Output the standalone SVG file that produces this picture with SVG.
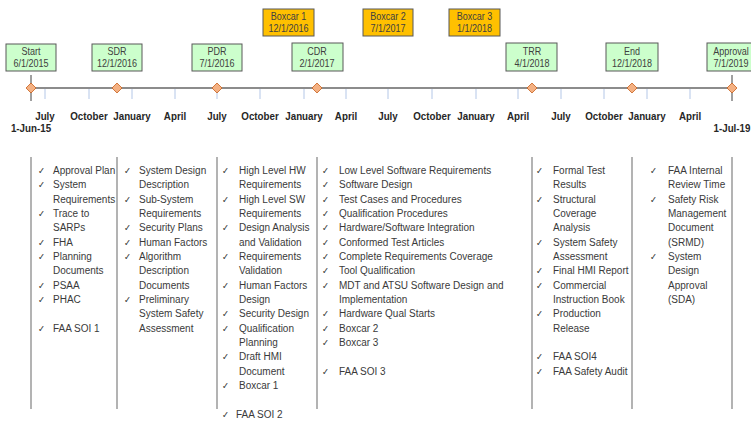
<svg xmlns="http://www.w3.org/2000/svg" width="751" height="421" viewBox="0 0 751 421">
<style>
.bg{fill:#ffffff}
.ms{fill:#CCFFCC;stroke:#595959;stroke-width:1}
.bx{fill:#FFC000;stroke:#595959;stroke-width:1}
.bl{font-family:"Liberation Sans",Arial,sans-serif;font-size:11px;fill:#404040;text-anchor:middle}
.mo{font-family:"Liberation Sans",Arial,sans-serif;font-size:11.5px;font-weight:bold;fill:#262626;text-anchor:middle}
.tx{font-family:"Liberation Sans",Arial,sans-serif;font-size:11.5px;fill:#3a3a3a}
.ck{font-family:"DejaVu Sans",sans-serif;font-size:9.5px;fill:#3a3a3a}
.tick{stroke:#B4C7E7;stroke-width:1}
.sep{stroke:#9a9a9a;stroke-width:1.5}
.dia{fill:#F4B183;stroke:#C55A11;stroke-width:0.75}
</style>
<rect class="bg" x="0" y="0" width="751" height="421"/>

<g id="connectors">
  <line x1="28" y1="88" x2="735" y2="88" stroke="#666666" stroke-width="1.5"/>
  <g>
    <line class="tick" x1="45" y1="89" x2="45" y2="99"/>
    <line class="tick" x1="89" y1="89" x2="89" y2="99"/>
    <line class="tick" x1="132" y1="89" x2="132" y2="99"/>
    <line class="tick" x1="175" y1="89" x2="175" y2="99"/>
    <line class="tick" x1="217" y1="89" x2="217" y2="99"/>
    <line class="tick" x1="260" y1="89" x2="260" y2="99"/>
    <line class="tick" x1="304" y1="89" x2="304" y2="99"/>
    <line class="tick" x1="346" y1="89" x2="346" y2="99"/>
    <line class="tick" x1="388" y1="89" x2="388" y2="99"/>
    <line class="tick" x1="432" y1="89" x2="432" y2="99"/>
    <line class="tick" x1="476" y1="89" x2="476" y2="99"/>
    <line class="tick" x1="518" y1="89" x2="518" y2="99"/>
    <line class="tick" x1="561" y1="89" x2="561" y2="99"/>
    <line class="tick" x1="604" y1="89" x2="604" y2="99"/>
    <line class="tick" x1="647" y1="89" x2="647" y2="99"/>
    <line class="tick" x1="690" y1="89" x2="690" y2="99"/>
  </g>
  <line x1="31" y1="75" x2="31" y2="101" stroke="#404040" stroke-width="1"/>
  <line x1="732" y1="75" x2="732" y2="101" stroke="#404040" stroke-width="1"/>
  <g>
    <line class="sep" x1="31" y1="157" x2="31" y2="409"/>
    <line class="sep" x1="117" y1="157" x2="117" y2="409"/>
    <line class="sep" x1="217" y1="157" x2="217" y2="409"/>
    <line class="sep" x1="317" y1="157" x2="317" y2="409"/>
    <line class="sep" x1="532" y1="157" x2="532" y2="409"/>
    <line class="sep" x1="632" y1="157" x2="632" y2="409"/>
    <line class="sep" x1="732" y1="157" x2="732" y2="409"/>
  </g>
</g>

<g id="axis-labels">
  <text class="mo" x="45" y="120" transform="matrix(0.85 0 0 1 6.75 0)">July</text>
  <text class="mo" x="89" y="120" transform="matrix(0.85 0 0 1 13.35 0)">October</text>
  <text class="mo" x="132" y="120" transform="matrix(0.85 0 0 1 19.8 0)">January</text>
  <text class="mo" x="175" y="120" transform="matrix(0.85 0 0 1 26.25 0)">April</text>
  <text class="mo" x="217" y="120" transform="matrix(0.85 0 0 1 32.55 0)">July</text>
  <text class="mo" x="260" y="120" transform="matrix(0.85 0 0 1 39 0)">October</text>
  <text class="mo" x="304" y="120" transform="matrix(0.85 0 0 1 45.6 0)">January</text>
  <text class="mo" x="346" y="120" transform="matrix(0.85 0 0 1 51.9 0)">April</text>
  <text class="mo" x="388" y="120" transform="matrix(0.85 0 0 1 58.2 0)">July</text>
  <text class="mo" x="432" y="120" transform="matrix(0.85 0 0 1 64.8 0)">October</text>
  <text class="mo" x="476" y="120" transform="matrix(0.85 0 0 1 71.4 0)">January</text>
  <text class="mo" x="518" y="120" transform="matrix(0.85 0 0 1 77.7 0)">April</text>
  <text class="mo" x="561" y="120" transform="matrix(0.85 0 0 1 84.15 0)">July</text>
  <text class="mo" x="604" y="120" transform="matrix(0.85 0 0 1 90.6 0)">October</text>
  <text class="mo" x="647" y="120" transform="matrix(0.85 0 0 1 97.05 0)">January</text>
  <text class="mo" x="690" y="120" transform="matrix(0.85 0 0 1 103.5 0)">April</text>
  <text class="mo" x="31" y="132" transform="matrix(0.85 0 0 1 4.65 0)">1-Jun-15</text>
  <text class="mo" x="732" y="132" transform="matrix(0.85 0 0 1 109.8 0)">1-Jul-19</text>
</g>

<g id="start">
  <rect class="ms" x="6" y="44" width="50" height="27"/>
  <g transform="matrix(0.82 0 0 1 5.58 0)">
    <text class="bl" x="31" y="55">Start</text>
    <text class="bl" x="31" y="67">6/1/2015</text>
  </g>
  <path class="dia" d="M31,83 l5,5 l-5,5 l-5,-5z"/>
</g>
<g id="sdr">
  <rect class="ms" x="92" y="44" width="50" height="27"/>
  <g transform="matrix(0.82 0 0 1 21.06 0)">
    <text class="bl" x="117" y="55">SDR</text>
    <text class="bl" x="117" y="67">12/1/2016</text>
  </g>
  <path class="dia" d="M117,83 l5,5 l-5,5 l-5,-5z"/>
</g>
<g id="pdr">
  <rect class="ms" x="192" y="44" width="50" height="27"/>
  <g transform="matrix(0.82 0 0 1 39.06 0)">
    <text class="bl" x="217" y="55">PDR</text>
    <text class="bl" x="217" y="67">7/1/2016</text>
  </g>
  <path class="dia" d="M217,83 l5,5 l-5,5 l-5,-5z"/>
</g>
<g id="cdr">
  <rect class="ms" x="292" y="43" width="51" height="28"/>
  <g transform="matrix(0.82 0 0 1 57.06 0)">
    <text class="bl" x="317" y="55">CDR</text>
    <text class="bl" x="317" y="67">2/1/2017</text>
  </g>
  <path class="dia" d="M317,83 l5,5 l-5,5 l-5,-5z"/>
</g>
<g id="trr">
  <rect class="ms" x="506" y="43" width="51" height="28"/>
  <g transform="matrix(0.82 0 0 1 95.76 0)">
    <text class="bl" x="532" y="55">TRR</text>
    <text class="bl" x="532" y="67">4/1/2018</text>
  </g>
  <path class="dia" d="M532,83 l5,5 l-5,5 l-5,-5z"/>
</g>
<g id="end">
  <rect class="ms" x="606" y="43" width="52" height="28"/>
  <g transform="matrix(0.82 0 0 1 113.76 0)">
    <text class="bl" x="632" y="55">End</text>
    <text class="bl" x="632" y="67">12/1/2018</text>
  </g>
  <path class="dia" d="M632,83 l5,5 l-5,5 l-5,-5z"/>
</g>
<g id="approval">
  <rect class="ms" x="707" y="43" width="52" height="28"/>
  <g transform="matrix(0.82 0 0 1 131.58 0)">
    <text class="bl" x="731" y="55">Approval</text>
    <text class="bl" x="731" y="67">7/1/2019</text>
  </g>
  <path class="dia" d="M732,83 l5,5 l-5,5 l-5,-5z"/>
</g>
<g id="boxcar1">
  <rect class="bx" x="263" y="9" width="51" height="27"/>
  <g transform="matrix(0.82 0 0 1 51.93 0)">
    <text class="bl" x="288.5" y="20">Boxcar 1</text>
    <text class="bl" x="288.5" y="32">12/1/2016</text>
  </g>
</g>
<g id="boxcar2">
  <rect class="bx" x="363" y="9" width="50" height="27"/>
  <g transform="matrix(0.82 0 0 1 69.84 0)">
    <text class="bl" x="388" y="20">Boxcar 2</text>
    <text class="bl" x="388" y="32">7/1/2017</text>
  </g>
</g>
<g id="boxcar3">
  <rect class="bx" x="449" y="9" width="51" height="27"/>
  <g transform="matrix(0.82 0 0 1 85.41 0)">
    <text class="bl" x="474.5" y="20">Boxcar 3</text>
    <text class="bl" x="474.5" y="32">1/1/2018</text>
  </g>
</g>

<g id="list1" transform="matrix(0.87 0 0 1 6.89 0)">
  <text class="ck" x="35.8" y="174">✓</text><text class="tx" x="53" y="174">Approval Plan</text>
  <text class="ck" x="35.8" y="188.3">✓</text><text class="tx" x="53" y="188.3">System</text>
  <text class="tx" x="53" y="202.7">Requirements</text>
  <text class="ck" x="35.8" y="217">✓</text><text class="tx" x="53" y="217">Trace to</text>
  <text class="tx" x="53" y="231.3">SARPs</text>
  <text class="ck" x="35.8" y="245.7">✓</text><text class="tx" x="53" y="245.7">FHA</text>
  <text class="ck" x="35.8" y="260">✓</text><text class="tx" x="53" y="260">Planning</text>
  <text class="tx" x="53" y="274.3">Documents</text>
  <text class="ck" x="35.8" y="288.7">✓</text><text class="tx" x="53" y="288.7">PSAA</text>
  <text class="ck" x="35.8" y="303">✓</text><text class="tx" x="53" y="303">PHAC</text>
  <text class="ck" x="35.8" y="331.7">✓</text><text class="tx" x="53" y="331.7">FAA SOI 1</text>
</g>
<g id="list2" transform="matrix(0.87 0 0 1 18.07 0)">
  <text class="ck" x="121.8" y="174">✓</text><text class="tx" x="139" y="174">System Design</text>
  <text class="tx" x="139" y="188.3">Description</text>
  <text class="ck" x="121.8" y="202.7">✓</text><text class="tx" x="139" y="202.7">Sub-System</text>
  <text class="tx" x="139" y="217">Requirements</text>
  <text class="ck" x="121.8" y="231.3">✓</text><text class="tx" x="139" y="231.3">Security Plans</text>
  <text class="ck" x="121.8" y="245.7">✓</text><text class="tx" x="139" y="245.7">Human Factors</text>
  <text class="ck" x="121.8" y="260">✓</text><text class="tx" x="139" y="260">Algorithm</text>
  <text class="tx" x="139" y="274.3">Description</text>
  <text class="tx" x="139" y="288.7">Documents</text>
  <text class="ck" x="121.8" y="303">✓</text><text class="tx" x="139" y="303">Preliminary</text>
  <text class="tx" x="139" y="317.3">System Safety</text>
  <text class="tx" x="139" y="331.7">Assessment</text>
</g>
<g id="list3" transform="matrix(0.87 0 0 1 31.07 0)">
  <text class="ck" x="219.5" y="174">✓</text><text class="tx" x="239" y="174">High Level HW</text>
  <text class="tx" x="239" y="188.3">Requirements</text>
  <text class="ck" x="219.5" y="202.7">✓</text><text class="tx" x="239" y="202.7">High Level SW</text>
  <text class="tx" x="239" y="217">Requirements</text>
  <text class="ck" x="219.5" y="231.3">✓</text><text class="tx" x="239" y="231.3">Design Analysis</text>
  <text class="tx" x="239" y="245.7">and Validation</text>
  <text class="ck" x="219.5" y="260">✓</text><text class="tx" x="239" y="260">Requirements</text>
  <text class="tx" x="239" y="274.3">Validation</text>
  <text class="ck" x="219.5" y="288.7">✓</text><text class="tx" x="239" y="288.7">Human Factors</text>
  <text class="tx" x="239" y="303">Design</text>
  <text class="ck" x="219.5" y="317.3">✓</text><text class="tx" x="239" y="317.3">Security Design</text>
  <text class="ck" x="219.5" y="331.7">✓</text><text class="tx" x="239" y="331.7">Qualification</text>
  <text class="tx" x="239" y="346">Planning</text>
  <text class="ck" x="219.5" y="360.3">✓</text><text class="tx" x="239" y="360.3">Draft HMI</text>
  <text class="tx" x="239" y="374.7">Document</text>
  <text class="ck" x="219.5" y="389">✓</text><text class="tx" x="239" y="389">Boxcar 1</text>
  <text class="ck" x="219.5" y="418">✓</text><text class="tx" x="235.5" y="418">FAA SOI 2</text>
</g>
<g id="list4" transform="matrix(0.87 0 0 1 44.07 0)">
  <text class="ck" x="319.5" y="174">✓</text><text class="tx" x="339" y="174">Low Level Software Requirements</text>
  <text class="ck" x="319.5" y="188.3">✓</text><text class="tx" x="339" y="188.3">Software Design</text>
  <text class="ck" x="319.5" y="202.7">✓</text><text class="tx" x="339" y="202.7">Test Cases and Procedures</text>
  <text class="ck" x="319.5" y="217">✓</text><text class="tx" x="339" y="217">Qualification Procedures</text>
  <text class="ck" x="319.5" y="231.3">✓</text><text class="tx" x="339" y="231.3">Hardware/Software Integration</text>
  <text class="ck" x="319.5" y="245.7">✓</text><text class="tx" x="339" y="245.7">Conformed Test Articles</text>
  <text class="ck" x="319.5" y="260">✓</text><text class="tx" x="339" y="260">Complete Requirements Coverage</text>
  <text class="ck" x="319.5" y="274.3">✓</text><text class="tx" x="339" y="274.3">Tool Qualification</text>
  <text class="ck" x="319.5" y="288.7">✓</text><text class="tx" x="339" y="288.7">MDT and ATSU Software Design and</text>
  <text class="tx" x="339" y="303">Implementation</text>
  <text class="ck" x="319.5" y="317.3">✓</text><text class="tx" x="339" y="317.3">Hardware Qual Starts</text>
  <text class="ck" x="319.5" y="331.7">✓</text><text class="tx" x="339" y="331.7">Boxcar 2</text>
  <text class="ck" x="319.5" y="346">✓</text><text class="tx" x="339" y="346">Boxcar 3</text>
  <text class="ck" x="319.5" y="374.7">✓</text><text class="tx" x="339" y="374.7">FAA SOI 3</text>
</g>
<g id="list5" transform="matrix(0.87 0 0 1 71.89 0)">
  <text class="ck" x="533.5" y="174">✓</text><text class="tx" x="553" y="174">Formal Test</text>
  <text class="tx" x="553" y="188.3">Results</text>
  <text class="ck" x="533.5" y="202.7">✓</text><text class="tx" x="553" y="202.7">Structural</text>
  <text class="tx" x="553" y="217">Coverage</text>
  <text class="tx" x="553" y="231.3">Analysis</text>
  <text class="ck" x="533.5" y="245.7">✓</text><text class="tx" x="553" y="245.7">System Safety</text>
  <text class="tx" x="553" y="260">Assessment</text>
  <text class="ck" x="533.5" y="274.3">✓</text><text class="tx" x="553" y="274.3">Final HMI Report</text>
  <text class="ck" x="533.5" y="288.7">✓</text><text class="tx" x="553" y="288.7">Commercial</text>
  <text class="tx" x="553" y="303">Instruction Book</text>
  <text class="ck" x="533.5" y="317.3">✓</text><text class="tx" x="553" y="317.3">Production</text>
  <text class="tx" x="553" y="331.7">Release</text>
  <text class="ck" x="533.5" y="360.3">✓</text><text class="tx" x="553" y="360.3">FAA SOI4</text>
  <text class="ck" x="533.5" y="374.7">✓</text><text class="tx" x="553" y="374.7">FAA Safety Audit</text>
</g>
<g id="list6" transform="matrix(0.87 0 0 1 86.84 0)">
  <text class="ck" x="647.3" y="174">✓</text><text class="tx" x="668" y="174">FAA Internal</text>
  <text class="tx" x="668" y="188.3">Review Time</text>
  <text class="ck" x="647.3" y="202.7">✓</text><text class="tx" x="668" y="202.7">Safety Risk</text>
  <text class="tx" x="668" y="217">Management</text>
  <text class="tx" x="668" y="231.3">Document</text>
  <text class="tx" x="668" y="245.7">(SRMD)</text>
  <text class="ck" x="647.3" y="260">✓</text><text class="tx" x="668" y="260">System</text>
  <text class="tx" x="668" y="274.3">Design</text>
  <text class="tx" x="668" y="288.7">Approval</text>
  <text class="tx" x="668" y="303">(SDA)</text>
</g>
</svg>
